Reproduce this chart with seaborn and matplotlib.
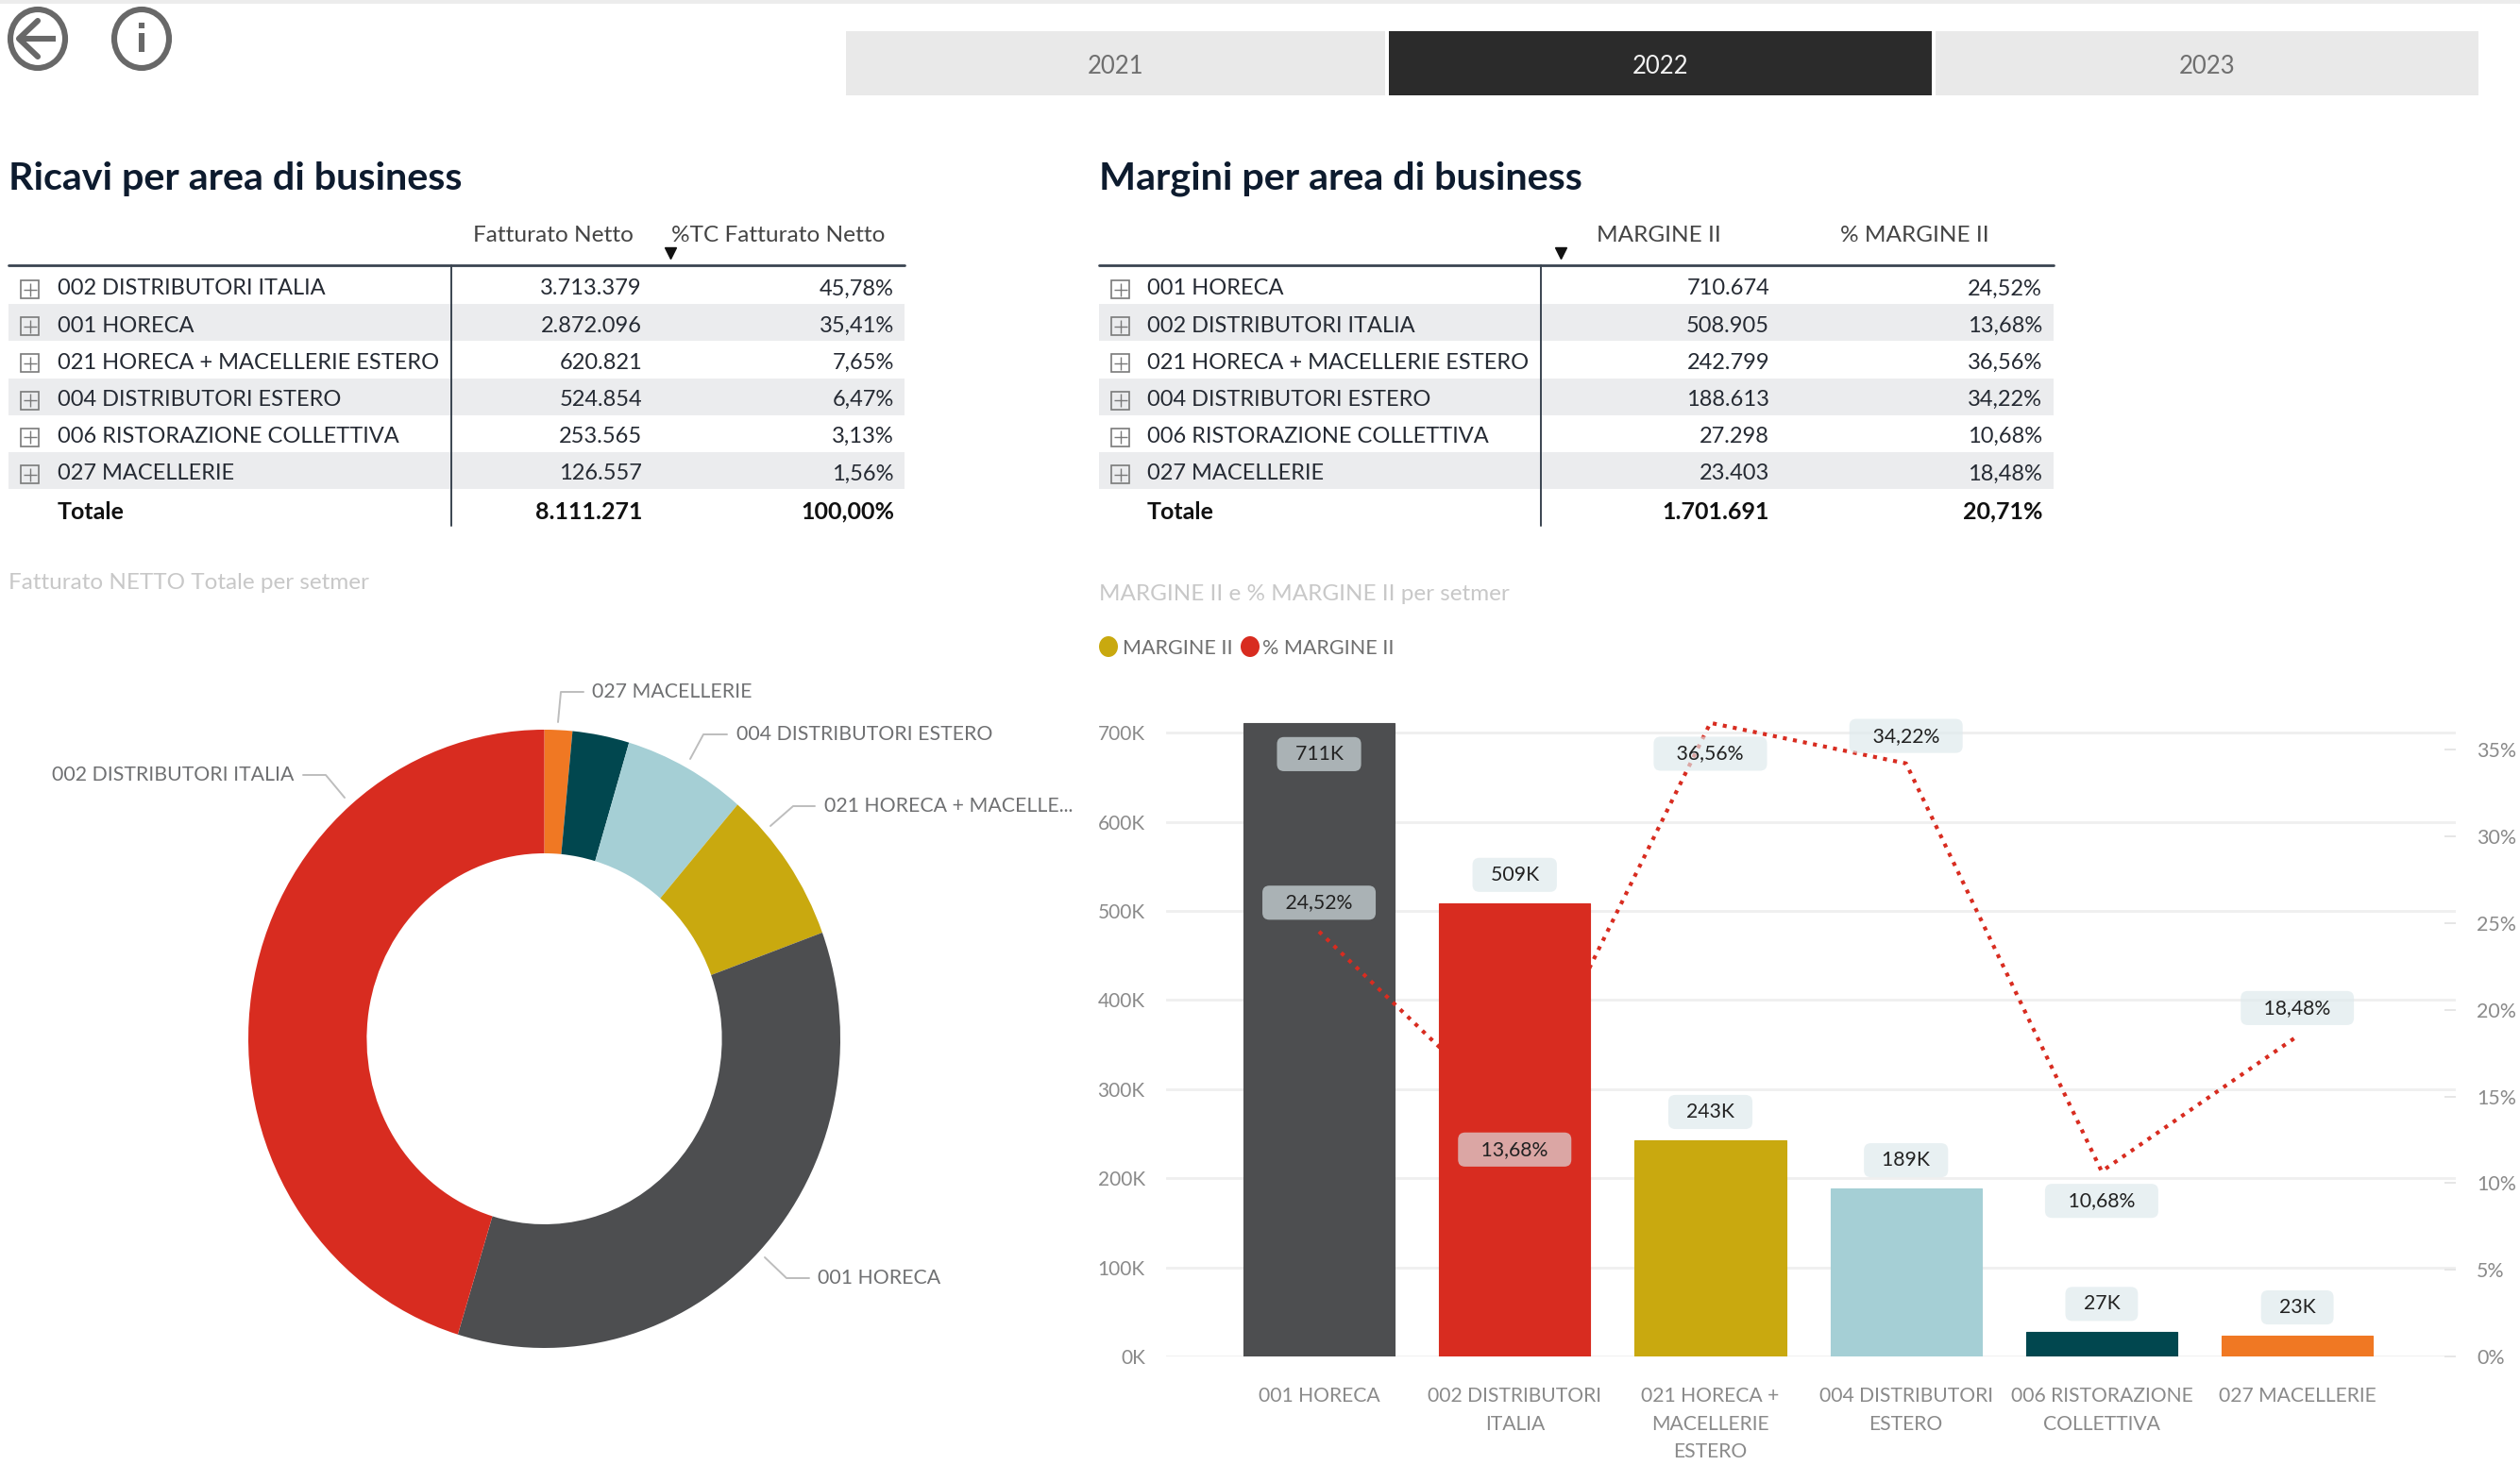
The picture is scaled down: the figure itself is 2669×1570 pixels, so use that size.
import numpy as np
import pandas as pd
import matplotlib
matplotlib.use("Agg")
import matplotlib.pyplot as plt
import seaborn as sns
from matplotlib.patches import Rectangle, Ellipse

# ---------------- DATA ----------------
years = ["2021", "2022", "2023"]

ricavi_names = ["002 DISTRIBUTORI ITALIA", "001 HORECA", "021 HORECA + MACELLERIE ESTERO",
                "004 DISTRIBUTORI ESTERO", "006 RISTORAZIONE COLLETTIVA", "027 MACELLERIE"]
ricavi_values = ["3.713.379", "2.872.096", "620.821", "524.854", "253.565", "126.557"]
ricavi_perc = ["45,78%", "35,41%", "7,65%", "6,47%", "3,13%", "1,56%"]
ricavi_tot = ["Totale", "8.111.271", "100,00%"]

margini_names = ["001 HORECA", "002 DISTRIBUTORI ITALIA", "021 HORECA + MACELLERIE ESTERO",
                 "004 DISTRIBUTORI ESTERO", "006 RISTORAZIONE COLLETTIVA", "027 MACELLERIE"]
margini_values = ["710.674", "508.905", "242.799", "188.613", "27.298", "23.403"]
margini_perc = ["24,52%", "13,68%", "36,56%", "34,22%", "10,68%", "18,48%"]
margini_tot = ["Totale", "1.701.691", "20,71%"]

# donut shares
pie_names = ["027 MACELLERIE", "006 RISTORAZIONE COLLETTIVA", "004 DISTRIBUTORI ESTERO",
             "021 HORECA + MACELLE...", "001 HORECA", "002 DISTRIBUTORI ITALIA"]
pie_values = [1.52, 3.1, 6.7, 8.1, 35.3, 45.28]
pie_colors = ["#f07823", "#01474f", "#a5cfd5", "#c9a90f", "#4d4e50", "#d82c20"]

bar_names = ["001 HORECA", "002 DISTRIBUTORI\nITALIA", "021 HORECA +\nMACELLERIE\nESTERO",
             "004 DISTRIBUTORI\nESTERO", "006 RISTORAZIONE\nCOLLETTIVA", "027 MACELLERIE"]
margine = [710674, 508905, 242799, 188613, 27298, 23403]
margine_lab = ["711K", "509K", "243K", "189K", "27K", "23K"]
margine_pct = [24.52, 13.68, 36.56, 34.22, 10.68, 18.48]
bar_colors = ["#4d4e50", "#d82c20", "#c9a90f", "#a5cfd5", "#01474f", "#f07823"]

W, H = 2669, 1570
FONT = "Lato"
DARK = "#252a33"
NAVY = "#0d1b2e"
GREY = "#8a8a8a"

sns.set_theme(style="white")
plt.rcParams["font.family"] = [FONT, "DejaVu Sans"]


def box(l, t, r, b):
    return [l / W, 1 - b / H, (r - l) / W, (b - t) / H]


fig = plt.figure(figsize=(W / 100, H / 100), dpi=100, facecolor="white")

# overlay in pixel coordinates for the page furniture
bg = fig.add_axes([0, 0, 1, 1])
bg.set_xlim(0, W)
bg.set_ylim(H, 0)
bg.axis("off")

bg.add_patch(Rectangle((0, 0), W, 4, color="#ececec", lw=0))

# ---------------- ICONS ----------------
ICON = "#686868"
for cx in [40, 150]:
    bg.add_patch(Ellipse((cx, 41), 58, 62, fill=False, ec=ICON, lw=4.4))
bg.plot([20, 59], [41, 41], color=ICON, lw=4.4, solid_capstyle="butt")
bg.plot([40, 20, 40], [22, 41, 60], color=ICON, lw=4.4)
bg.plot([150, 150], [35, 55], color=ICON, lw=4.4, solid_capstyle="butt")
bg.plot([150, 150], [24, 30], color=ICON, lw=4.4, solid_capstyle="butt")

# ---------------- YEAR TABS ----------------
for year, (x0, x1) in zip(years, [(896, 1467), (1471, 2046), (2050, 2625)]):
    on = year == "2022"
    bg.add_patch(Rectangle((x0, 33), x1 - x0, 68, color="#2b2b2b" if on else "#e9e9e9", lw=0))
    bg.text((x0 + x1) / 2, 71, year, ha="center", va="center", fontsize=18.5,
            color="#f2f2f2" if on else "#6f6f6f")


# ---------------- TABLES ----------------
def draw_table(x0, x1, xv, xname, xc1, xc2, names, vals, percs, tot, heads, xh1, xh2, xtri):
    y_rows = [306 + 39.2 * i for i in range(7)]
    bg.plot([x0, x1], [281, 281], color="#3a4450", lw=2)
    bg.plot([xv, xv], [281, 557], color="#3a4450", lw=1.4)
    bg.text(xh1, 250, heads[0], ha="right", va="center", fontsize=17.6, color="#444444")
    bg.text(xh2, 250, heads[1], ha="right", va="center", fontsize=17.6, color="#444444")
    bg.plot([xtri], [268], marker="v", ms=9, color="#111111", ls="none")
    for i in range(6):
        y = y_rows[i]
        if i % 2 == 1:
            rect = Rectangle((x0, y - 23), x1 - x0, 39, color="#ebecee", lw=0, zorder=0)
            bg.add_patch(rect)
        bg.add_patch(Rectangle((x0 + 13, y - 9), 19, 19, fill=False, ec="#7a7a7a", lw=1.2))
        bg.plot([x0 + 22.5], [y + 0.5], marker="+", ms=10, mew=1, color="#7a7a7a")
        bg.text(xname, y, names[i], ha="left", va="center", fontsize=17, color=DARK)
        bg.text(xc1, y, vals[i], ha="right", va="center", fontsize=17, color=DARK)
        bg.text(xc2, y, percs[i], ha="right", va="center", fontsize=17, color=DARK)
    y = y_rows[6] + 1
    bg.text(xname, y, tot[0], ha="left", va="center", fontsize=18, color="#111111", fontweight="bold")
    bg.text(xc1, y, tot[1], ha="right", va="center", fontsize=18, color="#111111", fontweight="bold")
    bg.text(xc2, y, tot[2], ha="right", va="center", fontsize=18, color="#111111", fontweight="bold")


bg.text(9, 189, "Ricavi per area di business", ha="left", va="center", fontsize=29.7,
        fontweight="bold", color=NAVY)
bg.text(1164, 189, "Margini per area di business", ha="left", va="center", fontsize=29.7,
        fontweight="bold", color=NAVY)

draw_table(9, 958, 478, 61, 680, 947, ricavi_names, ricavi_values, ricavi_perc, ricavi_tot,
           ["Fatturato Netto", "%TC Fatturato Netto"], 671, 937, 710)
draw_table(1164, 2175, 1632, 1215, 1874, 2163, margini_names, margini_values, margini_perc, margini_tot,
           ["MARGINE II", "% MARGINE II"], 1823, 2107, 1653)

bg.text(9, 617, "Fatturato NETTO Totale per setmer", ha="left", va="center", fontsize=17.5, color="#c8c8c8")
bg.text(1164, 630, "MARGINE II e % MARGINE II per setmer", ha="left", va="center", fontsize=17.5, color="#c8c8c8")

# ---------------- LEGEND ----------------
bg.add_patch(Ellipse((1174, 685), 20, 22, color=bar_colors[2], lw=0))
bg.text(1189, 687, "MARGINE II", ha="left", va="center", fontsize=15.5, color="#6f6f6f")
bg.add_patch(Ellipse((1324, 685), 20, 22, color=bar_colors[1], lw=0))
bg.text(1337, 687, "% MARGINE II", ha="left", va="center", fontsize=15.5, color="#6f6f6f")

# ---------------- DONUT ----------------
ax_pie = fig.add_axes(box(263, 773, 890, 1428))
ax_pie.pie(pie_values, colors=pie_colors, startangle=90, counterclock=False, radius=1,
           wedgeprops=dict(width=0.4, linewidth=0))
ax_pie.set_aspect("auto")
ax_pie.set_xlim(-1, 1)
ax_pie.set_ylim(-1, 1)

leaders = {
    "027 MACELLERIE": ([591, 594, 618], [765, 733, 733], 627, 733, "left"),
    "004 DISTRIBUTORI ESTERO": ([731, 745, 770], [804, 778, 778], 780, 778, "left"),
    "021 HORECA + MACELLE...": ([816, 840, 863], [875, 854, 854], 873, 854, "left"),
    "002 DISTRIBUTORI ITALIA": ([365, 345, 321], [845, 821, 821], 311, 821, "right"),
    "001 HORECA": ([810, 833, 857], [1332, 1354, 1354], 866, 1354, "left"),
}
for name, (lx, ly, tx, ty, ha) in leaders.items():
    bg.plot(lx, ly, color="#bdbdbd", lw=1.4)
    bg.text(tx, ty, name, ha=ha, va="center", fontsize=15.3, color="#6f7072")

# ---------------- BAR + LINE ----------------
ax = fig.add_axes(box(1235, 748, 2601, 1437))
ax.patch.set_alpha(0)
df = pd.DataFrame({"area": bar_names, "margine": margine})
sns.barplot(data=df, x="area", y="margine", hue="area", palette=bar_colors, width=0.773,
            saturation=1, legend=False, ax=ax, zorder=3)
for p in ax.patches:
    p.set_edgecolor(p.get_facecolor())
    p.set_linewidth(0.8)
ax.set_xlim(-0.782, 5.81)
ax.set_ylim(0, 730000)
ax.set_xlabel("")
ax.set_ylabel("")
ax.set_yticks(np.arange(0, 800000, 100000))
ax.set_yticklabels([f"{v}K" for v in range(0, 800, 100)], fontsize=15, color=GREY)
ax.tick_params(axis="y", length=0, pad=16)
ax.tick_params(axis="x", length=0, pad=23, labelsize=15.2, labelcolor=GREY)
for t in ax.get_xticklabels():
    t.set_linespacing(1.6)
ax.grid(axis="y", color="#efefef", lw=2, zorder=0)
ax.set_axisbelow(True)
sns.despine(ax=ax, left=True, bottom=True, top=True, right=True)

ax2 = ax.twinx()
ax2.patch.set_alpha(0)
sns.lineplot(x=np.arange(len(margine_pct)), y=margine_pct, color="#d82c20", lw=3,
             linestyle=(0, (1, 1.6)), ax=ax2, zorder=5)
ax2.set_ylim(0, 37.53)
ax2.set_yticks(np.arange(0, 40, 5))
ax2.set_yticklabels([f"{v}%" for v in range(0, 40, 5)], fontsize=15.4, color=GREY)
ax2.tick_params(axis="y", direction="in", length=9, width=1.4, color="#e6e6e6", pad=16)
ax2.grid(False)
sns.despine(ax=ax2, left=True, bottom=True, top=True, right=True)

LAB = dict(boxstyle="round,pad=0.38,rounding_size=0.35", fc="#dde9ec", alpha=0.65, ec="none")


def data_label(axis, x, y, txt, dy, gap):
    axis.annotate(gap + txt + gap, xy=(x, y), xytext=(0, dy), textcoords="offset points", ha="center",
                  va="center", fontsize=15.3, color="#222222", bbox=LAB, zorder=10, annotation_clip=False)


# label offsets in points, the first bar label sits inside the bar
bar_dy = [-23.5, 21.5, 21.5, 21.5, 21.5, 21.5]
for i in range(len(margine)):
    data_label(ax2, i, margine[i] / 730000 * 37.53, margine_lab[i], bar_dy[i], "  ")

pct_dy = [22, -23, -23.5, 21, -22.5, 21.5]
for i in range(len(margine_pct)):
    data_label(ax2, i, margine_pct[i], margini_perc[i], pct_dy[i], "   ")

fig.savefig("out.png", dpi=100)
